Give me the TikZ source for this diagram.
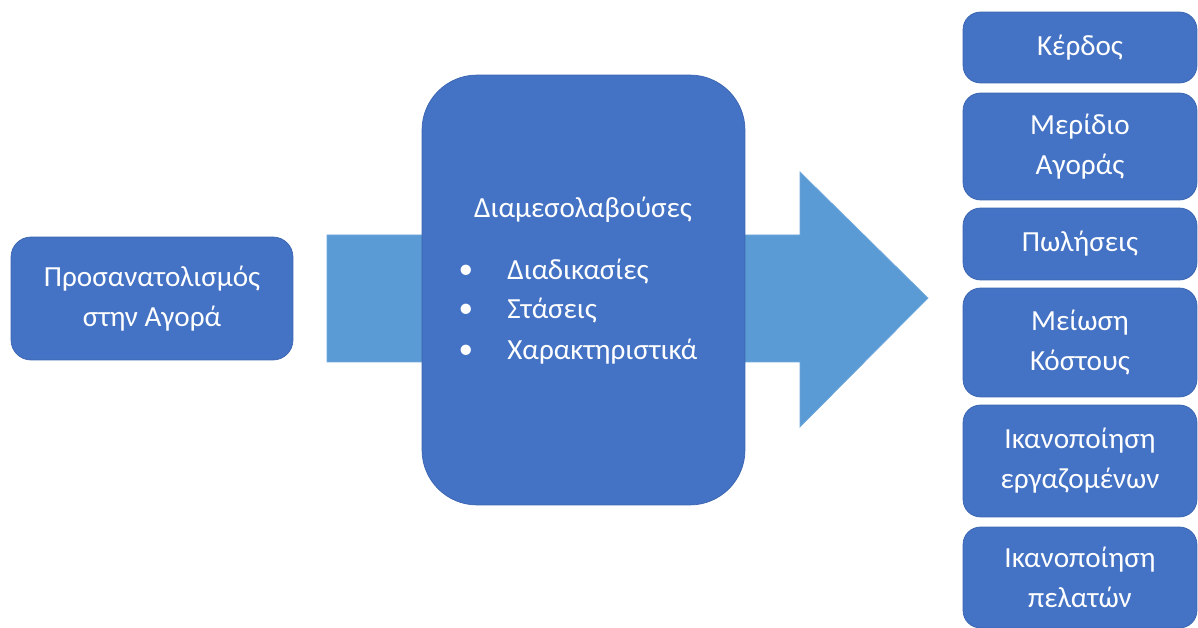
\documentclass[tikz,border=0pt]{standalone}
\usepackage{fontspec}
\setmainfont{Carlito}
\usepackage{xcolor}
\definecolor{boxblue}{HTML}{4472C4}
\definecolor{boxedge}{HTML}{3A64B0}
\definecolor{arrowblue}{HTML}{5B9BD5}
\definecolor{arrowedge}{HTML}{6FA8DC}

\begin{document}
\begin{tikzpicture}[x=0.02cm,y=-0.02cm,
		blockbox/.style={draw=boxedge,fill=boxblue,text=white,align=center,rounded corners=0.4cm,inner sep=0pt,font=\fontsize{16.6}{22.8}\selectfont},
		goalbox/.style={blockbox,rounded corners=0.35cm,minimum width=4.68cm},
		listtext/.style={text=white,inner sep=0pt,font=\fontsize{16.6}{22.8}\selectfont}]
		\useasboundingbox (0,0) rectangle (1198,628);
		%
		\draw[color=arrowedge,fill=arrowblue] (327,235) -- (800,235) -- (800,172) -- (928,298) -- (800,427) -- (800,362) -- (327,362) -- cycle;
		%
		\node[blockbox,minimum width=5.64cm,minimum height=2.46cm] (market) at (152,298.5) {Προσανατολισμός\\στην Αγορά};
		\node[blockbox,rounded corners=1.1cm,minimum width=6.46cm,minimum height=8.6cm] (mediators) at (583.5,290) {};
		%
		\node[listtext] (medtitle) at (583,210) {Διαμεσολαβούσες};
		\node[listtext] (bulla) at (466,272) {\textbullet};
		\node[listtext] (bullb) at (466,311) {\textbullet};
		\node[listtext] (bullc) at (466,352) {\textbullet};
		\node[listtext,anchor=west] (proc) at (507,272) {Διαδικασίες};
		\node[listtext,anchor=west] (attit) at (507,311) {Στάσεις};
		\node[listtext,anchor=west] (chars) at (507,352) {Χαρακτηριστικά};
		%
		\node[goalbox,minimum height=1.42cm] (profit) at (1080,47.5) {Κέρδος};
		\node[goalbox,minimum height=2.14cm] (share) at (1080,146.5) {Μερίδιο\\Αγοράς};
		\node[goalbox,minimum height=1.44cm] (sales) at (1080,244) {Πωλήσεις};
		\node[goalbox,minimum height=2.18cm] (cost) at (1080,342.5) {Μείωση\\Κόστους};
		\node[goalbox,minimum height=2.24cm] (staff) at (1080,461) {Ικανοποίηση\\εργαζομένων};
		\node[goalbox,minimum height=2.02cm] (clients) at (1080,577.5) {Ικανοποίηση\\πελατών};
	\end{tikzpicture}
\end{document}
